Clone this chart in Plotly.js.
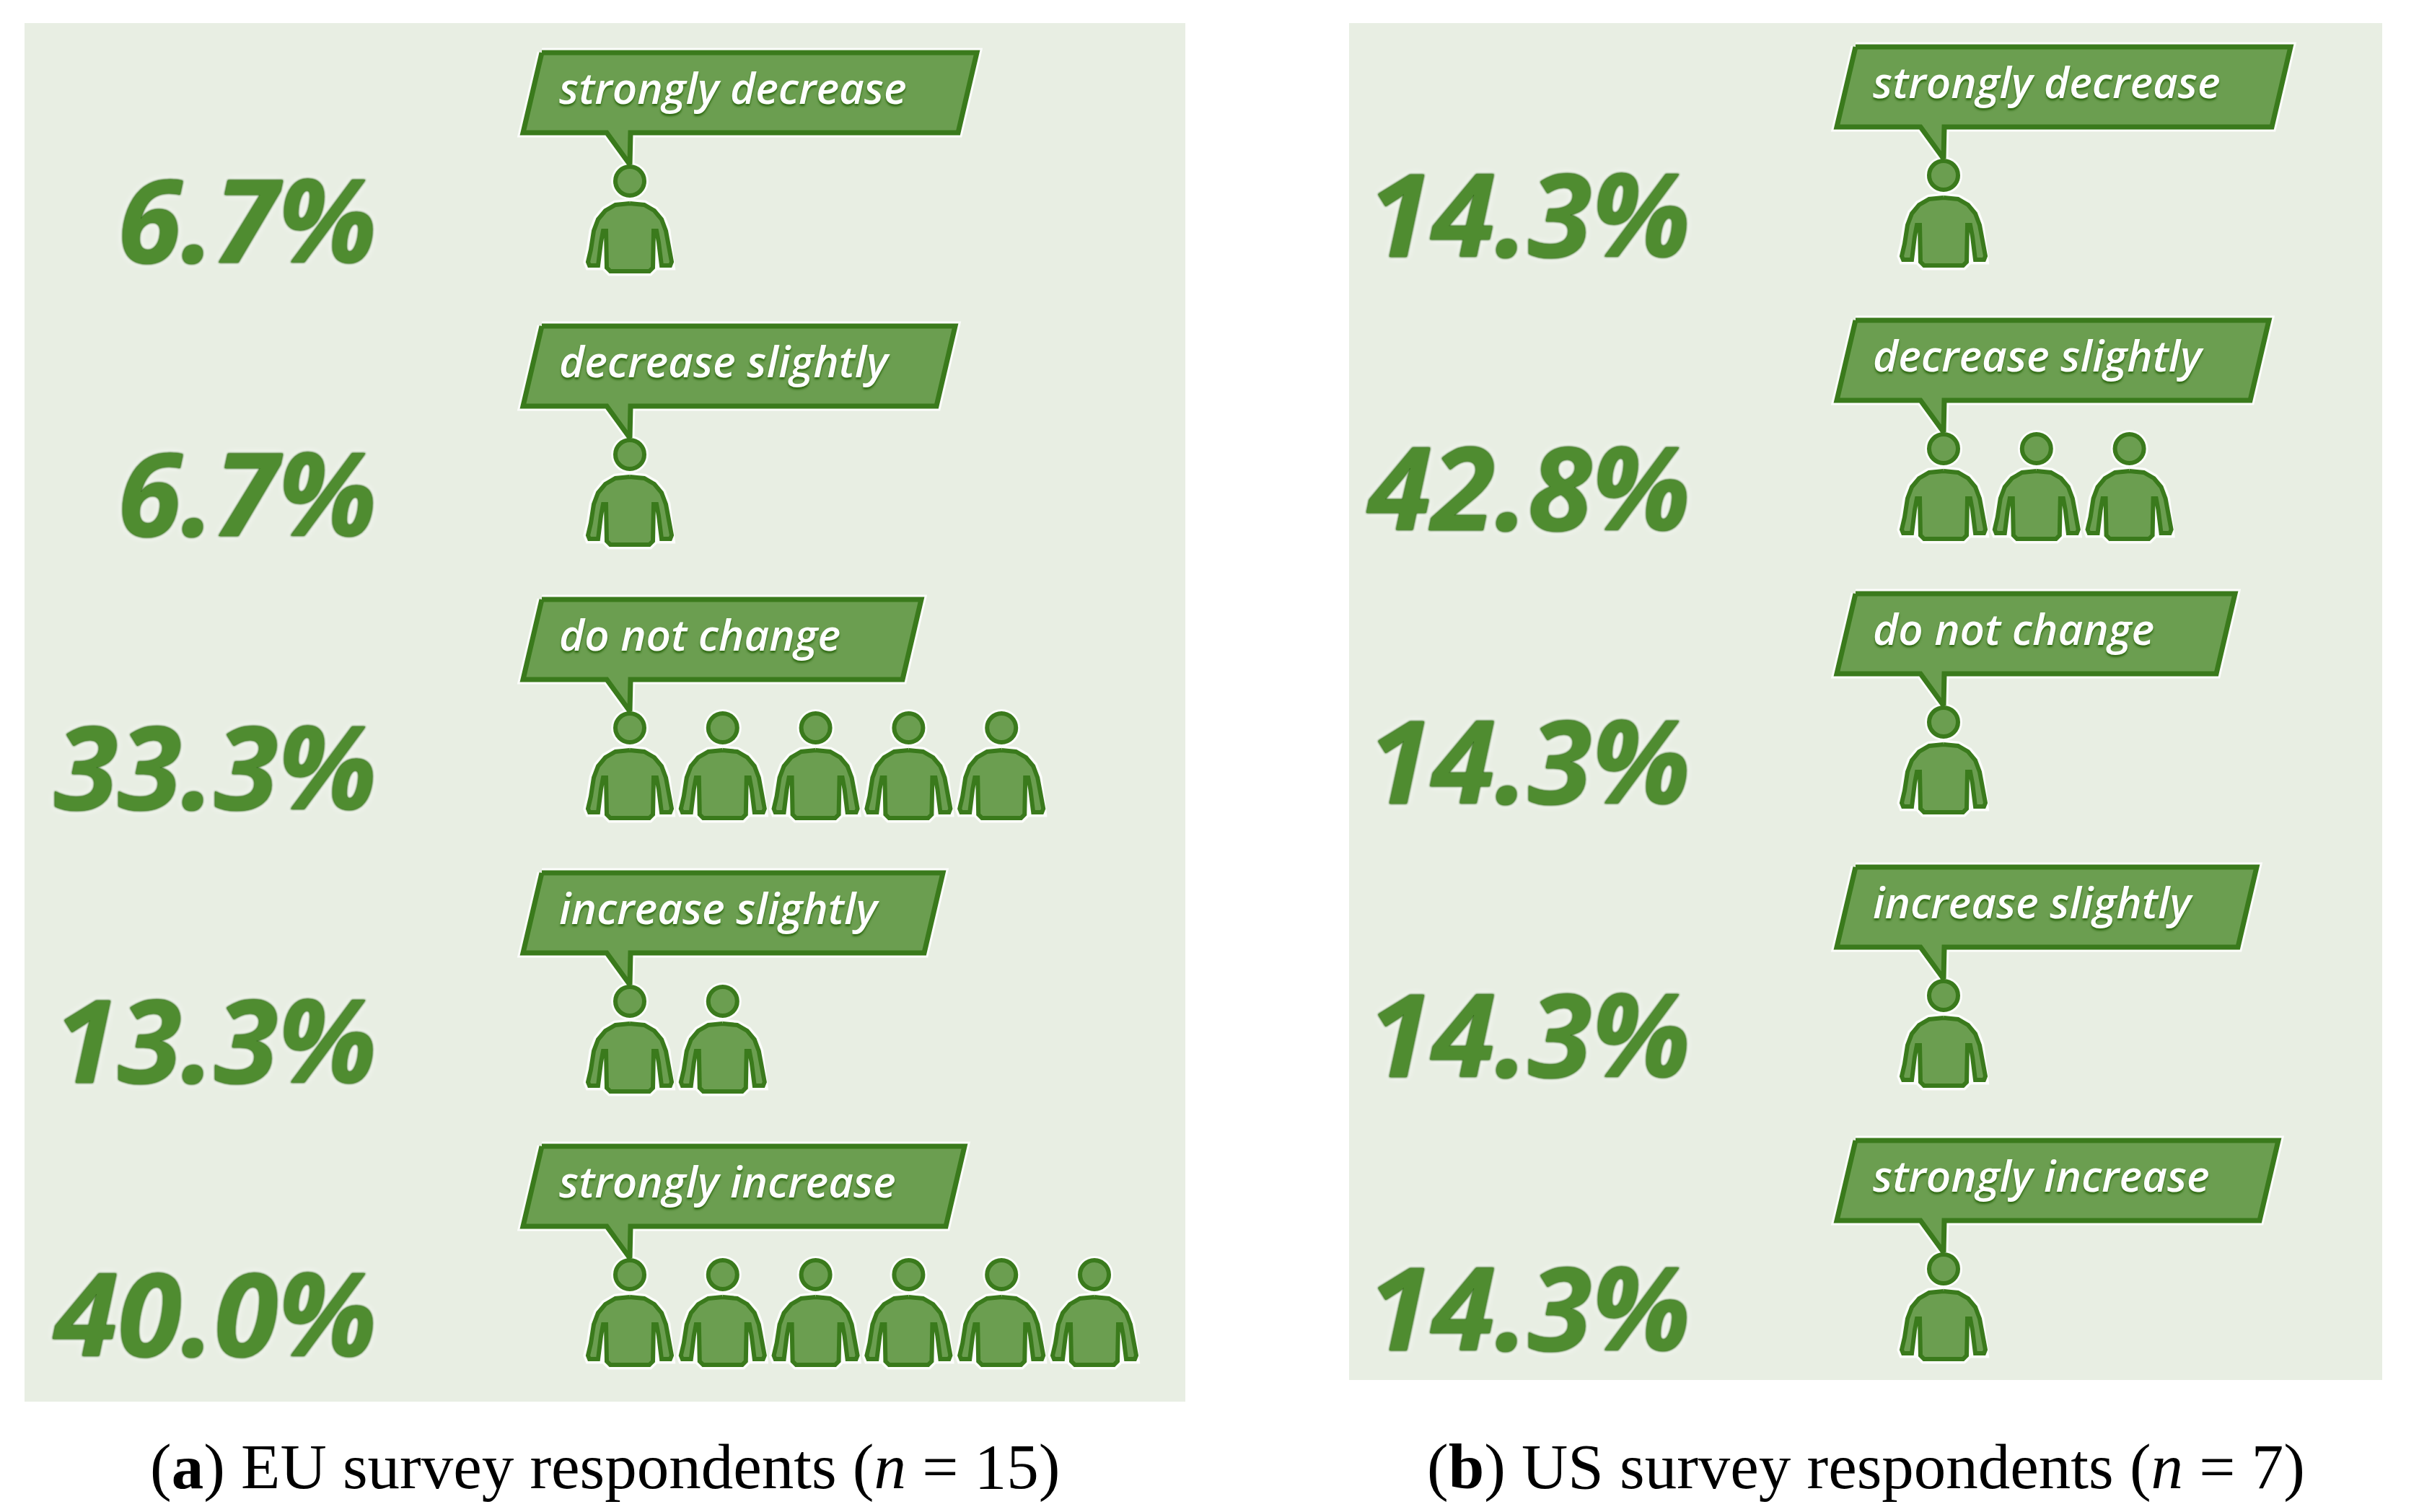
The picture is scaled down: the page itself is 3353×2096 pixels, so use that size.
<!DOCTYPE html>
<html><head><meta charset="utf-8">
<script src="https://cdn.plot.ly/plotly-3.0.1.min.js"></script>
<style>html,body{margin:0;padding:0;background:#fff}</style>
</head><body><div id="chart" style="width:3353px;height:2096px"></div>
<script>
// ---- data ----
const categories = ['strongly decrease','decrease slightly','do not change','increase slightly','strongly increase'];
const euCounts = [1,1,5,2,6];
const usCounts = [1,3,1,1,1];
const euShares = [6.7,6.7,33.3,13.3,40.0];
const usShares = [14.3,42.8,14.3,14.3,14.3];
const euCaption = '(<b>a</b>) EU survey respondents (<i>n</i> = 15)';
const usCaption = '(<b>b</b>) US survey respondents (<i>n</i> = 7)';

// ---- drawing style ----
const W = 3353, H = 2096;
const slotPx = 128.8, rowPx = 379;
const FILL = '#6b9e50', EDGE = '#3a7a1c', HALO = 'rgba(255,255,255,0.85)', PANEL = '#e8eee3';
const speechWidths = [603,573,526,556,586];
const ux = p => p / slotPx, uy = p => p / rowPx;

const bodyRight = [[0,94],[20,92],[34,84],[44,72],[50,56],[54,30],[58,13],[56,8],[44,8],[40,40],[37,56],[33,56],[32,5],[27,0],[0,0]];
const bodyShape = bodyRight.concat(bodyRight.slice(1,-1).reverse().map(p => [-p[0],p[1]]));
const speechShape = w => [[-122,303],[w-122,303],[w-148,192],[1,192],[0,148],[-32,192],[-148,192]];

function panel(counts, shares, ax) {
  const xa = 'x' + ax, ya = 'y' + ax;
  const bx = [], by = [], sx = [], sy = [], hx = [], hy = [];
  counts.forEach((n, row) => {
    for (let i = 0; i < n; i++) {
      bodyShape.concat([bodyShape[0]]).forEach(p => { bx.push(i + ux(p[0])); by.push(row - uy(p[1])); });
      bx.push(null); by.push(null);
      hx.push(i); hy.push(row - uy(125));
    }
    speechShape(speechWidths[row]).concat([[-122,303]]).forEach(p => { sx.push(ux(p[0])); sy.push(row - uy(p[1])); });
    sx.push(null); sy.push(null);
  });
  const rows = categories.map((_, r) => r);
  const base = {xaxis: xa, yaxis: ya, hoverinfo: 'skip', showlegend: false};
  return [
    {...base, type:'scatter', mode:'lines', x:sx, y:sy, line:{color:HALO, width:13}},
    {...base, type:'scatter', mode:'lines', x:bx, y:by, line:{color:HALO, width:13}},
    {...base, type:'scatter', mode:'markers', x:hx, y:hy, marker:{symbol:'circle', size:52, color:HALO}},
    {...base, type:'scatter', mode:'lines', x:sx, y:sy, fill:'toself', fillcolor:FILL, line:{color:EDGE, width:7}},
    {...base, type:'scatter', mode:'lines', x:bx, y:by, fill:'toself', fillcolor:FILL, line:{color:EDGE, width:6}},
    {...base, type:'scatter', mode:'markers', x:hx, y:hy, marker:{symbol:'circle', size:40, color:FILL, line:{color:EDGE, width:6}}},
    {...base, type:'scatter', mode:'text', x:rows.map(() => ux(-98)), y:rows.map(r => r - uy(247)),
      text:categories, textposition:'middle right', cliponaxis:false,
      textfont:{family:'Open Sans', size:60, style:'italic', weight:600, color:'#ffffff', shadow:'0 3px 3px #2f6a12'}},
    {...base, type:'scatter', mode:'text', x:rows.map(() => ux(-351)), y:rows.map(r => r - uy(52)),
      text:shares.map(v => v.toFixed(1) + '%'), textposition:'middle left', cliponaxis:false,
      textfont:{family:'Open Sans', size:160, style:'italic', weight:700, color:'#4f8c30',
        shadow:'0 0 3px #2a6410, 0 0 3px #2a6410, 0 0 12px #ffffff'}}
  ];
}

const geomA = {l:34, r:1643, t:32, b:1943, x0:873, y0:376};
const geomB = {l:1870, r:3302, t:32, b:1913, x0:2694, y0:368};
const axisFor = g => ([
  {domain:[g.l/W, g.r/W], range:[(g.l-g.x0)/slotPx, (g.r-g.x0)/slotPx], visible:false, fixedrange:true},
  {domain:[1-g.b/H, 1-g.t/H], range:[(g.b-g.y0)/rowPx, (g.t-g.y0)/rowPx], visible:false, fixedrange:true}
]);
const [xa1, ya1] = axisFor(geomA), [xa2, ya2] = axisFor(geomB);
ya1.anchor = 'x1'; xa1.anchor = 'y1'; ya2.anchor = 'x2'; xa2.anchor = 'y2';

const panelRect = n => ({type:'rect', xref:`x${n} domain`, yref:`y${n} domain`, x0:0, x1:1, y0:0, y1:1,
  fillcolor:PANEL, line:{width:0}, layer:'below'});
const caption = (n, text) => ({text, xref:`x${n} domain`, yref:'paper', x:0.5, y:1-2033/H,
  xanchor:'center', yanchor:'middle', showarrow:false,
  font:{family:'Liberation Serif', size:89, color:'#000000'}});

Plotly.newPlot('chart',
  panel(euCounts, euShares, 1).concat(panel(usCounts, usShares, 2)),
  {width:W, height:H, margin:{l:0,r:0,t:0,b:0,pad:0}, paper_bgcolor:'#ffffff', plot_bgcolor:'rgba(0,0,0,0)',
   showlegend:false, xaxis:xa1, yaxis:ya1, xaxis2:xa2, yaxis2:ya2,
   shapes:[panelRect(1), panelRect(2)],
   annotations:[caption(1, euCaption), caption(2, usCaption)]},
  {displayModeBar:false, staticPlot:true});
</script></body></html>
